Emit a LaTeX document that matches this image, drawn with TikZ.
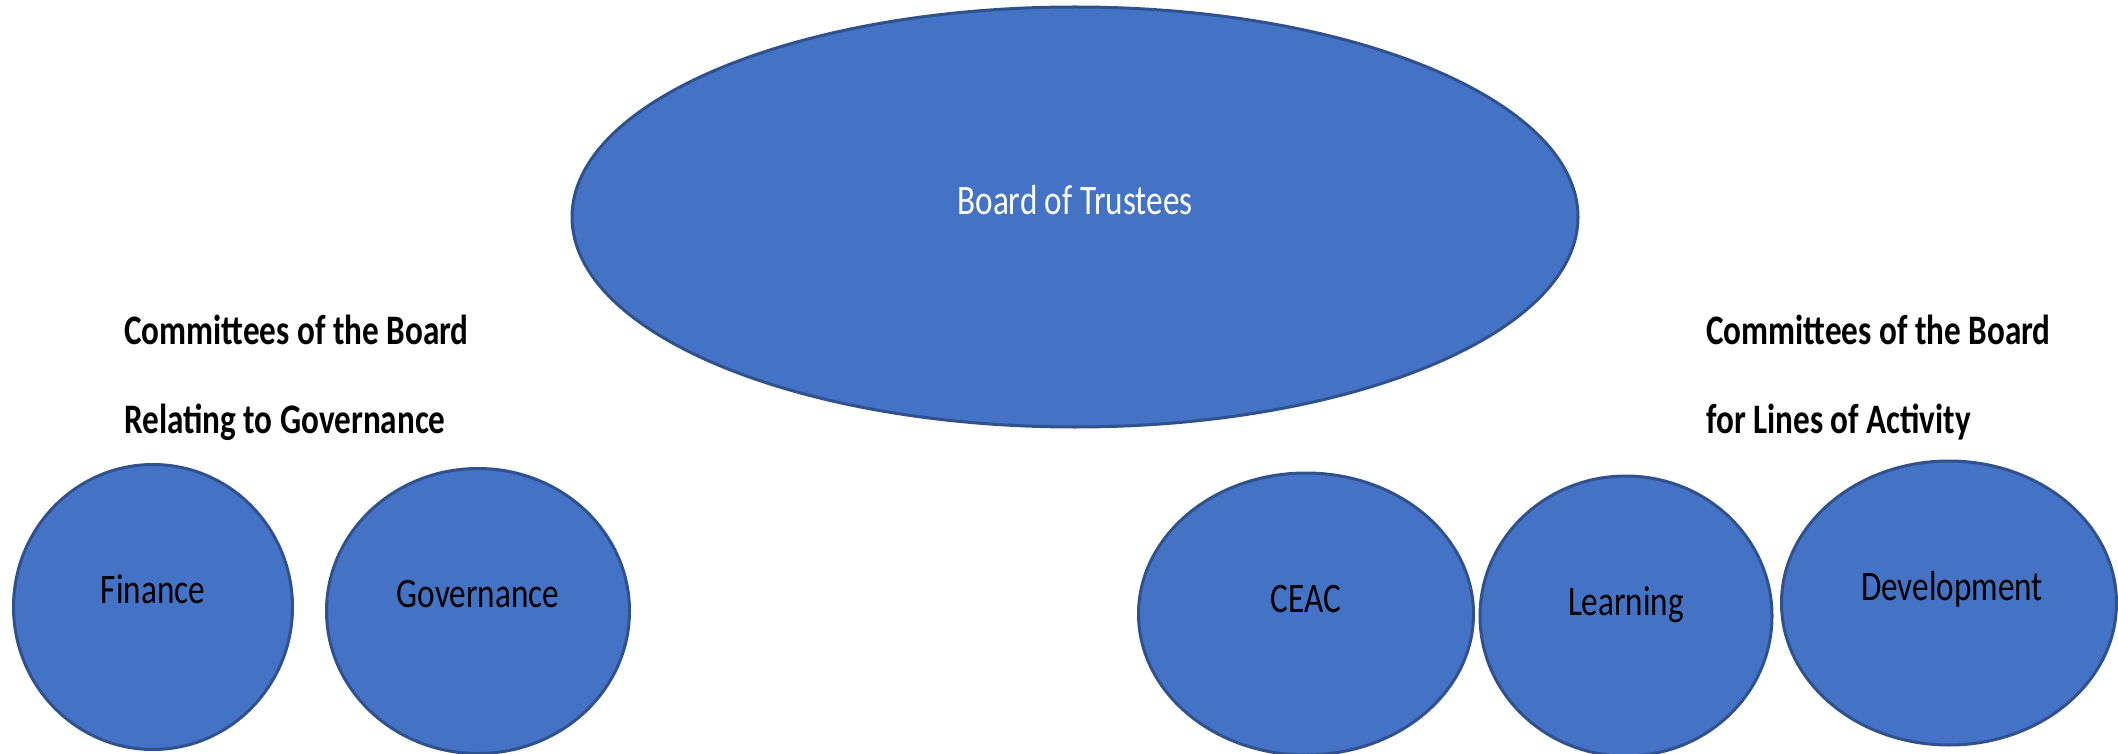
\documentclass[tikz,border=0pt]{standalone}
\usepackage{fontspec}
\setmainfont{Carlito}
\usepackage{graphicx}
\usetikzlibrary{shapes.geometric,positioning}
\definecolor{boardblue}{HTML}{4472C4}
\definecolor{boardline}{HTML}{2F528F}
\newcommand{\narrowtext}[1]{\scalebox{0.79}[1]{#1}}

\begin{document}
\begin{tikzpicture}[x=1pt, y=-1pt,
					bubble/.style={ellipse,
					line width=3pt,
					draw=boardline,
					fill=boardblue,
					inner sep=0pt},
					bubbletext/.style={font=\fontsize{42}{50}\selectfont,
					text=black,
					inner sep=0pt,
					anchor=base},
					headtext/.style={font=\fontsize{42}{50}\selectfont\bfseries,
					inner sep=0pt,
					anchor=base west},
					node distance = 325pt
					]

\useasboundingbox (0,0) rectangle (2118,754);

%top node
\node[bubble, minimum width=1006pt, minimum height=420pt]  (Board) at (1075,217) {};
\node[bubbletext, text=white]  (BoardT) at ([yshift=2pt]Board.center) {\narrowtext{Board of Trustees}};

% headings
\node[headtext]  (GovHeadA) at (124,344) {\narrowtext{Committees of the Board}};
\node[headtext]  (GovHeadB) at (124,433) {\narrowtext{Relating to Governance}};
\node[headtext]  (ActHeadA) at (1706,344) {\narrowtext{Committees of the Board}};
\node[headtext]  (ActHeadB) at (1706,433) {\narrowtext{for Lines of Activity}};

% governance committees
\node[bubble, minimum width=279pt, minimum height=285pt]  (Finance) at (153,607) {};
\node[bubble, minimum width=303pt, minimum height=285pt]  (Gov) [right of = Finance, yshift=-4pt] {};

% activity committees
\node[bubble, minimum width=335pt, minimum height=282pt]  (CEAC) at (1306,614) {};
\node[bubble, minimum width=292pt, minimum height=280pt]  (Learn) [right of = CEAC, node distance = 320pt, yshift=-2pt] {};
\node[bubble, minimum width=335pt, minimum height=284pt]  (Dev) [right of = Learn, node distance = 323pt, yshift=13pt] {};

% labels
\node[bubbletext]  (FinanceT) at ([yshift=4pt]Finance.center) {\narrowtext{Finance}};
\node[bubbletext]  (GovT) at ([yshift=4pt]Gov.center) {\narrowtext{Governance}};
\node[bubbletext]  (CEACT) at ([yshift=2pt]CEAC.center) {\narrowtext{CEAC}};
\node[bubbletext]  (LearnT) at ([yshift=1pt]Learn.center) {\narrowtext{Learning}};
\node[bubbletext]  (DevT) at ([yshift=3pt, xshift=3pt]Dev.center) {\narrowtext{Development}};

\end{tikzpicture}
\end{document}
